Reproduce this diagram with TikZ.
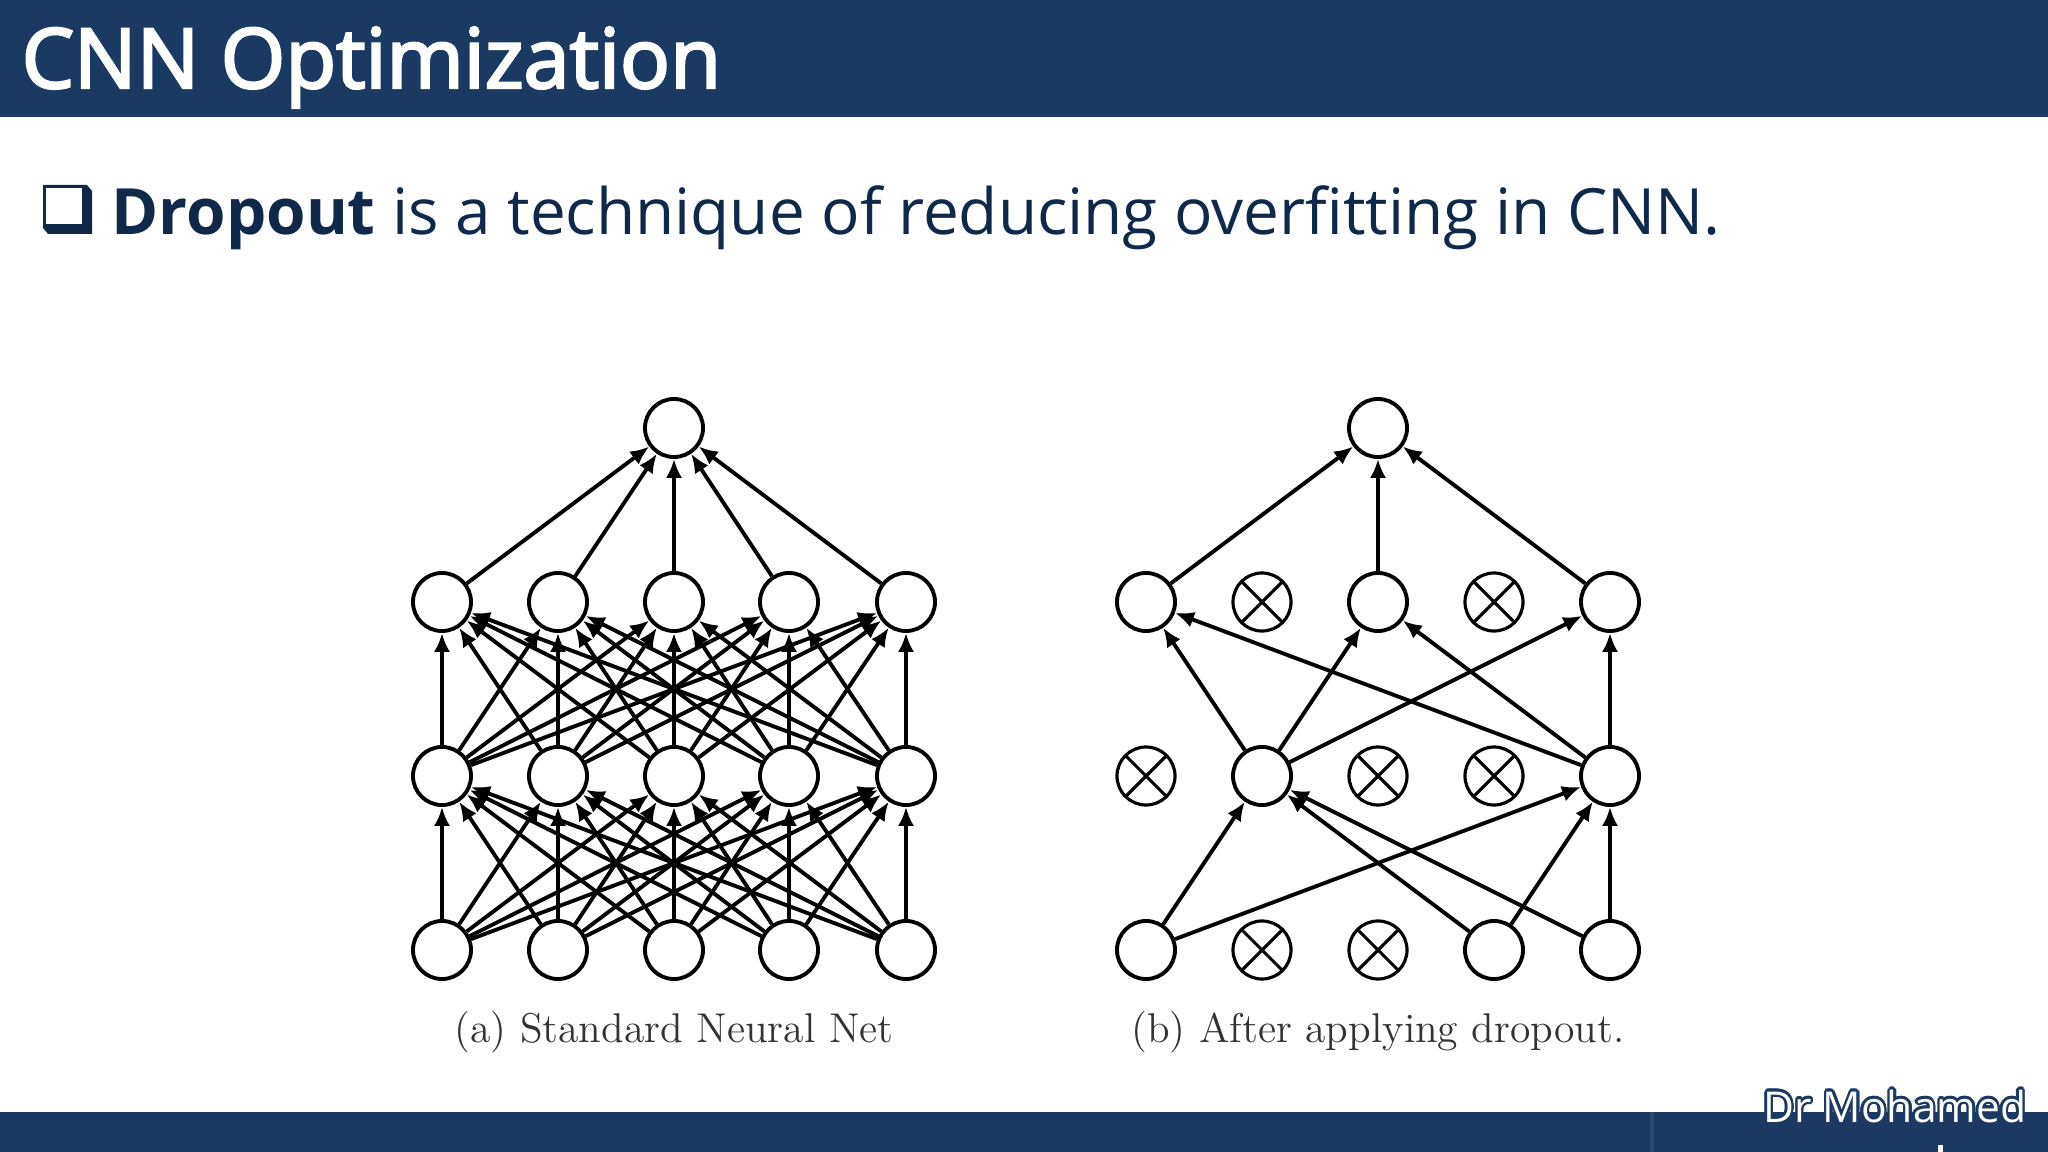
\documentclass[tikz,border=0pt]{standalone}
\usepackage{fontspec}
\setsansfont{Open Sans}
\newfontfamily\lmfont{Latin Modern Roman}
\usepackage[copies]{contour}
\usetikzlibrary{arrows.meta}
\definecolor{barblue}{HTML}{1B3A63}
\definecolor{inkblue}{HTML}{10294A}
\tikzset{
    neuron/.style={circle, draw, line width=1.1pt, fill=white, inner sep=0pt, minimum size=.58cm},
    dropped/.style={neuron, line width=.9pt, path picture={
        \draw[line width=.9pt](path picture bounding box.north west)--(path picture bounding box.south east);
        \draw[line width=.9pt](path picture bounding box.north east)--(path picture bounding box.south west);}},
    link/.style={-{Latex[length=5.4pt, width=4.6pt]}, line width=1.1pt},
    caption/.style={font=\lmfont\fontsize{11.83}{14}\selectfont, text=black!80},
}
\contourlength{.7pt}
\begin{document}
\begin{tikzpicture}[x=.01cm, y=-.01cm]
    \useasboundingbox(0, 0)rectangle(2048, 1152);
    \fill[barblue](0, 0)rectangle(2048, 117);
    \fill[barblue](0, 1112)rectangle(2048, 1152);
    \draw[white, opacity=.08, line width=1pt](1652, 1112)--(1652, 1152);
    \fill[white](1938, 1145)rectangle(1943, 1152);
    \node[anchor=base west, inner sep=0pt, text=white, font=\sffamily\fontsize{23.6}{28}\selectfont\addfontfeature{FakeBold=3}](title) at (21, 88){CNN Optimization};
    \fill[inkblue](43, 185)--(87, 185)--(92, 191)--(92, 234)--(48, 234)--(43, 228)--cycle;
    \fill[white](46, 188)rectangle(82, 224);
    \node[anchor=base west, inner sep=0pt, text=inkblue, font=\sffamily\fontsize{18.15}{22}\selectfont](claim) at (111, 235){\textbf{Dropout} is a technique of reducing overfitting in CNN.};
    \node[anchor=base east, inner sep=0pt, text=white, font=\sffamily\fontsize{12.1}{14}\selectfont](sig) at (2027, 1122){\contour{barblue}{Dr Mohamed}};
    \foreach \name/\px in {s1/442, s2/558, s3/674, s4/789, s5/906}{
        \node[neuron](\name a) at (\px, 950){};
        \node[neuron](\name b) at (\px, 776){};
        \node[neuron](\name c) at (\px, 602){};
    }
    \node[neuron](stop) at (674, 428){};
    \foreach \i in {1,...,5}{
        \foreach \j in {1,...,5}{
            \draw[link](s\i a)--(s\j b);
            \draw[link](s\i b)--(s\j c);
        }
        \draw[link](s\i c)--(stop);
    }
    \node[caption](scap) at (674, 1032){(a) Standard Neural Net};
    \foreach \name/\px/\fa/\fb/\fc in {d1/1146/neuron/dropped/neuron, d2/1262/dropped/neuron/dropped, d3/1378/dropped/dropped/neuron, d4/1494/neuron/dropped/dropped, d5/1610/neuron/neuron/neuron}{
        \node[\fa](\name a) at (\px, 950){};
        \node[\fb](\name b) at (\px, 776){};
        \node[\fc](\name c) at (\px, 602){};
    }
    \node[neuron](dtop) at (1378, 428){};
    \foreach \from/\to in {d1a/d2b, d1a/d5b, d4a/d2b, d4a/d5b, d5a/d2b, d5a/d5b, d2b/d1c, d2b/d3c, d2b/d5c, d5b/d1c, d5b/d3c, d5b/d5c, d1c/dtop, d3c/dtop, d5c/dtop}{
        \draw[link](\from)--(\to);
    }
    \node[caption](dcap) at (1378, 1032){(b) After applying dropout.};
\end{tikzpicture}
\end{document}
